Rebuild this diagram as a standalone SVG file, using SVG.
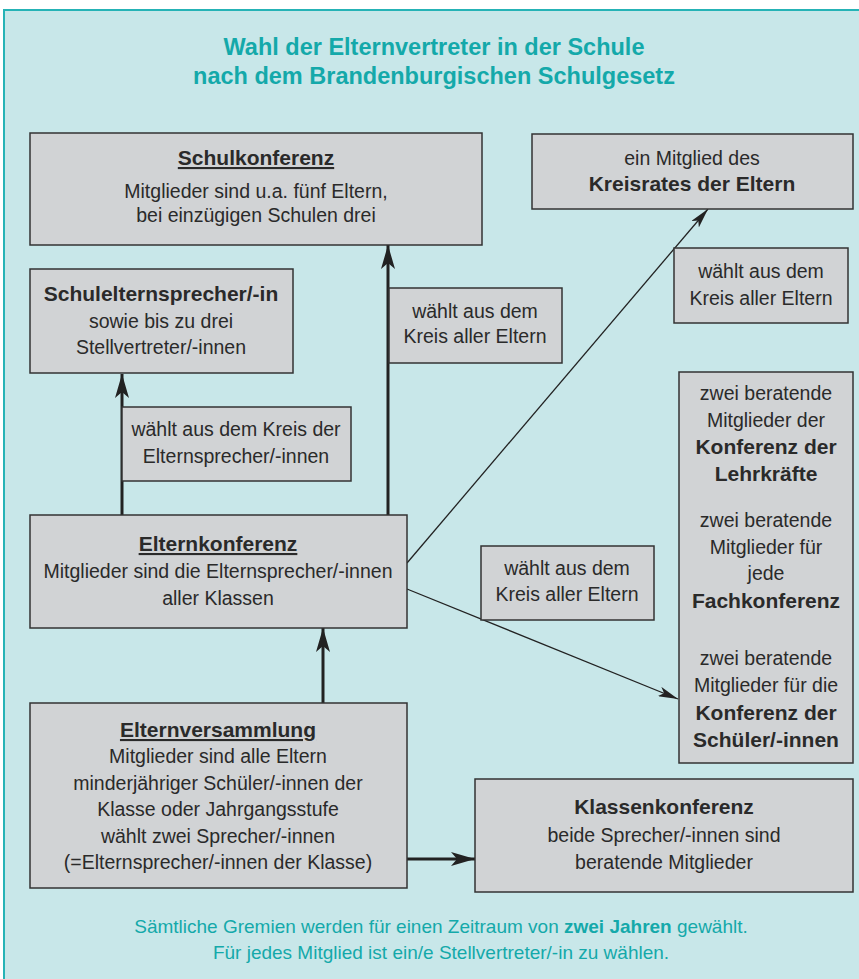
<svg xmlns="http://www.w3.org/2000/svg" width="859" height="979" viewBox="0 0 859 979">
<defs>
<style>
.bg{fill:#c8e7e9;stroke:#25b3b6;stroke-width:2}
.box{fill:#d1d3d5;stroke:#333;stroke-width:1.5}
text{font-family:"Liberation Sans",Arial,sans-serif;font-size:19.5px;fill:#2a2a2a;text-anchor:middle}
.b{font-weight:bold;font-size:21px}
.u{text-decoration:underline}
.t{fill:#14a9aa;font-weight:bold;font-size:23.5px}
.f{fill:#14a9aa;font-size:19px}
.thick{stroke:#222;stroke-width:3;fill:none}
.thin{stroke:#222;stroke-width:1.3;fill:none}
</style>
<marker id="ah" viewBox="0 0 24 14" refX="24" refY="7" markerWidth="24" markerHeight="14" markerUnits="userSpaceOnUse" orient="auto"><path d="M0,0 L24,7 L0,14 L6,7 Z" fill="#222"/></marker>
<marker id="ahs" viewBox="0 0 20 10" refX="20" refY="5" markerWidth="20" markerHeight="10" markerUnits="userSpaceOnUse" orient="auto"><path d="M0,0 L20,5 L0,10 L5,5 Z" fill="#222"/></marker>
</defs>
<rect class="bg" x="4" y="10" width="860" height="980"/>
<g id="title">
<text class="t" x="434" y="55">Wahl der Elternvertreter in der Schule</text>
<text class="t" x="434" y="84">nach dem Brandenburgischen Schulgesetz</text>
</g>
<g id="connectors">
<line class="thick" x1="122" y1="515" x2="122" y2="374" marker-end="url(#ah)"/>
<line class="thick" x1="388" y1="515" x2="388" y2="245" marker-end="url(#ah)"/>
<line class="thick" x1="323" y1="703" x2="323" y2="628" marker-end="url(#ah)"/>
<line class="thick" x1="407" y1="859" x2="475" y2="859" marker-end="url(#ah)"/>
<line class="thin" x1="407" y1="563" x2="708" y2="209" marker-end="url(#ahs)"/>
<line class="thin" x1="407" y1="589" x2="678" y2="699" marker-end="url(#ahs)"/>
</g>
<g id="schulkonferenz">
<rect class="box" x="30" y="133" width="452" height="112"/>
<text class="b u" x="256" y="165">Schulkonferenz</text>
<text x="256" y="198">Mitglieder sind u.a. fünf Eltern,</text>
<text x="256" y="222">bei einzügigen Schulen drei</text>
</g>
<g id="kreisrat">
<rect class="box" x="532" y="134" width="321" height="75"/>
<text x="692" y="165">ein Mitglied des</text>
<text class="b" x="692" y="191">Kreisrates der Eltern</text>
</g>
<g id="schulelternsprecher">
<rect class="box" x="30" y="269" width="263" height="104"/>
<text class="b" x="161" y="301">Schulelternsprecher/-in</text>
<text x="161" y="328">sowie bis zu drei</text>
<text x="161" y="354">Stellvertreter/-innen</text>
</g>
<g id="label1">
<rect class="box" x="122" y="407" width="229" height="74"/>
<text x="236" y="436">wählt aus dem Kreis der</text>
<text x="236" y="463">Elternsprecher/-innen</text>
</g>
<g id="label2">
<rect class="box" x="389" y="288" width="173" height="75"/>
<text x="475" y="318">wählt aus dem</text>
<text x="475" y="343">Kreis aller Eltern</text>
</g>
<g id="label3">
<rect class="box" x="674" y="248" width="174" height="75"/>
<text x="761" y="278">wählt aus dem</text>
<text x="761" y="305">Kreis aller Eltern</text>
</g>
<g id="elternkonferenz">
<rect class="box" x="30" y="515" width="377" height="113"/>
<text class="b u" x="218" y="551">Elternkonferenz</text>
<text x="218" y="578">Mitglieder sind die Elternsprecher/-innen</text>
<text x="218" y="605">aller Klassen</text>
</g>
<g id="label4">
<rect class="box" x="481" y="546" width="173" height="74"/>
<text x="567" y="575">wählt aus dem</text>
<text x="567" y="601">Kreis aller Eltern</text>
</g>
<g id="beratend">
<rect class="box" x="679" y="372" width="174" height="391"/>
<text x="766" y="400">zwei beratende</text>
<text x="766" y="427">Mitglieder der</text>
<text class="b" x="766" y="454">Konferenz der</text>
<text class="b" x="766" y="481">Lehrkräfte</text>
<text x="766" y="527">zwei beratende</text>
<text x="766" y="554">Mitglieder für</text>
<text x="766" y="580">jede</text>
<text class="b" x="766" y="608">Fachkonferenz</text>
<text x="766" y="665">zwei beratende</text>
<text x="766" y="692">Mitglieder für die</text>
<text class="b" x="766" y="720">Konferenz der</text>
<text class="b" x="766" y="747">Schüler/-innen</text>
</g>
<g id="elternversammlung">
<rect class="box" x="30" y="703" width="377" height="185"/>
<text class="b u" x="218" y="737">Elternversammlung</text>
<text x="218" y="763">Mitglieder sind alle Eltern</text>
<text x="218" y="790">minderjähriger Schüler/-innen der</text>
<text x="218" y="816">Klasse oder Jahrgangsstufe</text>
<text x="218" y="843">wählt zwei Sprecher/-innen</text>
<text x="218" y="869">(=Elternsprecher/-innen der Klasse)</text>
</g>
<g id="klassenkonferenz">
<rect class="box" x="475" y="779" width="378" height="113"/>
<text class="b" x="664" y="814">Klassenkonferenz</text>
<text x="664" y="842">beide Sprecher/-innen sind</text>
<text x="664" y="869">beratende Mitglieder</text>
</g>
<g id="footer">
<text class="f" x="441" y="933">Sämtliche Gremien werden für einen Zeitraum von <tspan font-weight="bold">zwei Jahren</tspan> gewählt.</text>
<text class="f" x="441" y="959">Für jedes Mitglied ist ein/e Stellvertreter/-in zu wählen.</text>
</g>
</svg>
